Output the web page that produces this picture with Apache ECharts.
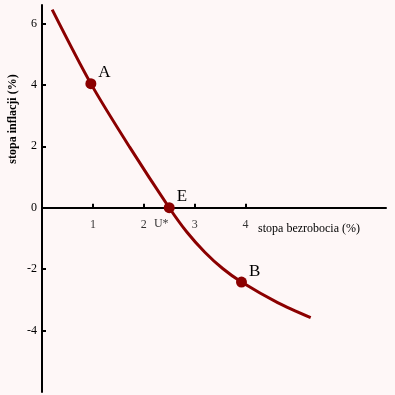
<!DOCTYPE html>
<html><head><meta charset="utf-8">
<script src="https://cdn.jsdelivr.net/npm/echarts@6/dist/echarts.min.js"></script>
<style>html,body{margin:0;padding:0;background:#fef7f7;}#c{width:395px;height:395px;}</style>
</head><body><div id="c"></div>
<script>
// Phillips curve points (unemployment %, inflation %)
const curveX = [0.2, 0.96, 1.72, 2.5, 2.85, 3.2, 3.55, 3.92, 4.63, 5.28];
const curveY = [6.45, 4.04, 1.98, 0, -0.8, -1.45, -1.98, -2.42, -3.09, -3.58];
const pointNames = ['A', 'E', 'B'];
const pointX = [0.96, 2.5, 3.92];
const pointY = [4.04, 0, -2.42];
const xTicks = [1, 2, 3, 4];
const yTicks = [-4, -2, 0, 2, 4, 6];
const xName = 'stopa bezrobocia (%)';
const yName = 'stopa inflacji (%)';
const uStarLabel = 'U*';

const red = '#8b0000';
const font = '"Liberation Serif", "DejaVu Serif", serif';
const chart = echarts.init(document.getElementById('c'));
chart.setOption({
  backgroundColor: '#fef7f7',
  animation: false,
  grid: {left: 42, top: 5, width: 344, height: 387, outerBoundsMode: 'none', containLabel: false},
  xAxis: {
    type: 'value', min: 0, max: 6.76,
    axisLine: {onZero: true, lineStyle: {color: '#000', width: 2}},
    axisTick: {inside: true, length: 4, customValues: xTicks, lineStyle: {color: '#000', width: 2}},
    axisLabel: {show: false},
    splitLine: {show: false},
    name: xName, nameLocation: 'end', nameGap: -26,
    nameTextStyle: {color: '#000', fontFamily: font, fontSize: 12, align: 'right', verticalAlign: 'top', padding: [15, 0, 0, 0]}
  },
  yAxis: {
    type: 'value', min: -6, max: 6.6,
    axisLine: {lineStyle: {color: '#000', width: 2}},
    axisTick: {inside: true, length: 4, customValues: yTicks, lineStyle: {color: '#000', width: 2}},
    axisLabel: {customValues: yTicks, color: '#000', fontFamily: font, fontSize: 12, margin: 5},
    splitLine: {show: false}
  },
  graphic: [{
    type: 'text', x: 13, y: 119, rotation: Math.PI / 2,
    style: {text: yName, fill: '#000', font: 'bold 12px ' + font, align: 'center', verticalAlign: 'middle'}
  }],
  series: [
    {
      type: 'line', smooth: 0.3, symbol: 'none',
      data: curveX.map((x, i) => [x, curveY[i]]),
      lineStyle: {color: red, width: 3}
    },
    {
      type: 'scatter', symbolSize: 11,
      itemStyle: {color: red, opacity: 1},
      data: pointX.map((x, i) => ({value: [x, pointY[i]], name: pointNames[i]})),
      label: {
        show: true, formatter: p => p.name, color: '#000', fontFamily: font, fontSize: 17,
        position: 'right', distance: 0, offset: [2, -11]
      },
      z: 5
    },
    {
      // x-axis tick labels placed on the zero line
      type: 'scatter', symbolSize: 0, silent: true,
      data: xTicks.map(v => [v, 0]),
      label: {show: true, formatter: p => String(p.value[0]), color: '#000', fontFamily: font, fontSize: 12, position: 'bottom', distance: 11}
    },
    {
      type: 'scatter', symbolSize: 0, silent: true,
      data: [[pointX[1], 0]],
      label: {show: true, formatter: uStarLabel, color: '#000', fontFamily: font, fontSize: 12, position: 'bottom', offset: [-8, 5]}
    }
  ]
});
</script></body></html>
